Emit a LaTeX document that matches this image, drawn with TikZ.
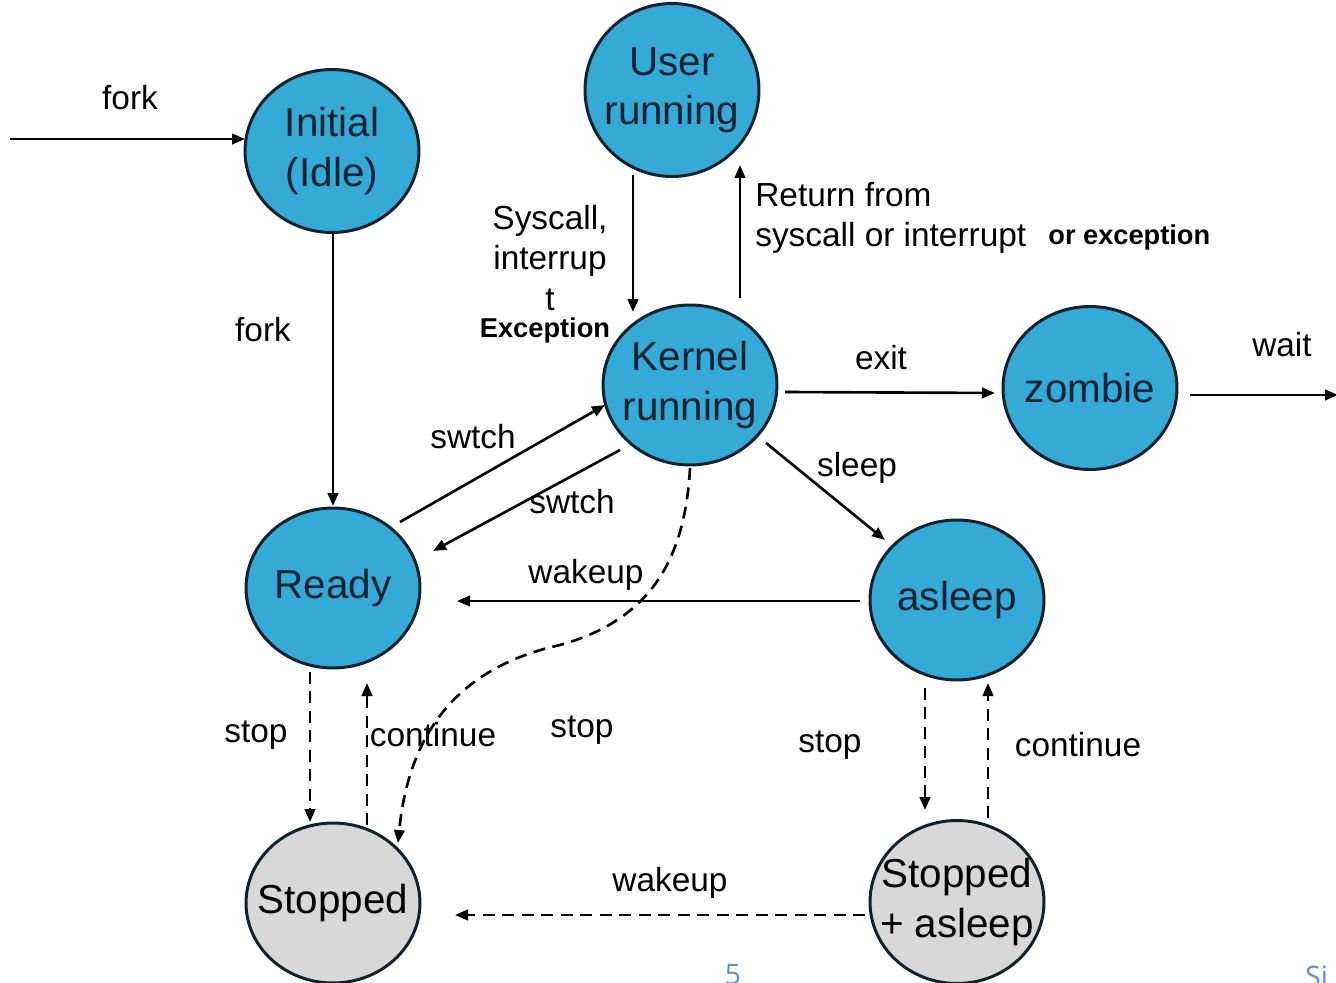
\documentclass[tikz,border=0pt]{standalone}
\usepackage{fontspec}
\setmainfont{Liberation Sans}
\newfontfamily\pagefont{Open Sans}
\usetikzlibrary{arrows.meta,calc,shapes.geometric}
\definecolor{stblue}{HTML}{35AAD6}
\definecolor{stgray}{HTML}{D8D8D8}
\definecolor{stedge}{HTML}{10222C}
\definecolor{sttext}{HTML}{0B2233}
\definecolor{pgblue}{HTML}{5B8FD9}
\tikzset{
  state/.style={ellipse, draw=stedge, line width=1.7pt, minimum width=3.48cm, minimum height=3.26cm, inner xsep=-0.7cm, inner ysep=-0.3cm, align=center, text=sttext, font=\fontsize{23}{28}\selectfont},
  bluestate/.style={state, fill=stblue},
  graystate/.style={state, fill=stgray, text=black},
  arr/.style={line width=1.5pt, -{Triangle[length=0.26cm,width=0.21cm]}},
  darr/.style={arr, dash pattern=on 0.24cm off 0.15cm},
  lbl/.style={font=\fontsize{19}{23.2}\selectfont, inner sep=0pt, align=center},
  blbl/.style={font=\fontsize{15.5}{19}\selectfont\bfseries, inner sep=0pt}
}
\begin{document}
\begin{tikzpicture}[x=0.02cm, y=-0.02cm]
\useasboundingbox[fill=white] (0,0) rectangle (1336,983);
% states
\node[bluestate] (init) at (332,151) {Initial\\(Idle)};
\node[bluestate, minimum height=3.46cm] (user) at (672,90) {User\\running};
\node[bluestate, minimum height=3.2cm] (kern) at (690,385) {Kernel\\running};
\node[bluestate] (zomb) at (1090,388) {zombie};
\node[bluestate, minimum height=3.2cm] (ready) at (333,588) {Ready};
\node[bluestate, minimum height=3.2cm] (asleep) at (957,600) {asleep};
\node[graystate, minimum height=3.2cm] (stop) at (333,903) {Stopped};
\node[graystate] (sa) at (957,902) {Stopped\\+ asleep};
% free ends
\coordinate (src) at (10,139);
\coordinate (sink) at (1338,395);
% solid connectors
\draw[arr] (src) -- ($(init)+(-87,-12)$);
\draw[arr] ($(init)+(1,82)$) -- ($(ready)+(0,-82)$);
\draw[arr] ($(user)+(-39,85)$) -- ($(kern)+(-57,-73)$);
\draw[arr] ($(kern)+(50,-87)$) -- ($(user)+(68,75)$);
\draw[arr] ($(kern)+(95,7)$) -- ($(zomb)+(-95,5)$);
\draw[arr] ($(zomb)+(100,7)$) -- (sink);
\draw[arr] ($(kern)+(76,58)$) -- ($(asleep)+(-72,-60)$);
\draw[arr] ($(ready)+(67,-66)$) -- ($(kern)+(-85,20)$);
\draw[arr] ($(kern)+(-70,65)$) -- ($(ready)+(100,-37)$);
\draw[arr] ($(asleep)+(-97,1)$) -- ($(ready)+(124,13)$);
% dashed connectors
\draw[darr] ($(kern)+(0,83)$) .. controls (685,560) and (650,620) .. (560,645)
            .. controls (470,665) and (410,720) .. ($(stop)+(65,-60)$);
\draw[darr] ($(ready)+(-23,84)$) -- ($(stop)+(-23,-81)$);
\draw[darr] ($(stop)+(34,-78)$) -- ($(ready)+(34,95)$);
\draw[darr] ($(asleep)+(-32,88)$) -- ($(sa)+(-32,-92)$);
\draw[darr] ($(sa)+(31,-84)$) -- ($(asleep)+(31,83)$);
\draw[darr] ($(sa)+(-92,13)$) -- ($(stop)+(122,12)$);
% labels
\node[lbl] (lfork1) at (130,98) {fork};
\node[lbl] (lfork2) at (263,330) {fork};
\node[lbl] (lsys) at (550,258) {Syscall,\\interrup\\t};
\node[blbl] (lexc) at (545,330) {Exception};
\node[lbl, align=left, anchor=west] (lret) at (755,218) {Return from\\syscall or interrupt};
\node[blbl, anchor=west] (lorexc) at (1048,237) {or exception};
\node[lbl] (lexit) at (881,358) {exit};
\node[lbl] (lwait) at (1282,345) {wait};
\node[lbl] (lsleep) at (857,468) {sleep};
\node[lbl] (lsw1) at (473,437) {swtch};
\node[lbl] (lsw2) at (572,502) {swtch};
\node[lbl] (lwake1) at (586,575) {wakeup};
\node[lbl] (lstop1) at (256,735) {stop};
\node[lbl] (lcont1) at (433,735) {continue};
\node[lbl] (lstop2) at (582,730) {stop};
\node[lbl] (lstop3) at (830,745) {stop};
\node[lbl] (lcont2) at (1078,745) {continue};
\node[lbl] (lwake2) at (670,883) {wakeup};
% page furniture
\node[font=\pagefont\fontsize{16}{18}\selectfont, text=pgblue, inner sep=0pt] (pgnum) at (733,975) {5};
\node[font=\pagefont\fontsize{16}{18}\selectfont, text=pgblue, inner sep=0pt, anchor=west] (pgsi) at (1305,976) {Si};
\end{tikzpicture}
\end{document}
